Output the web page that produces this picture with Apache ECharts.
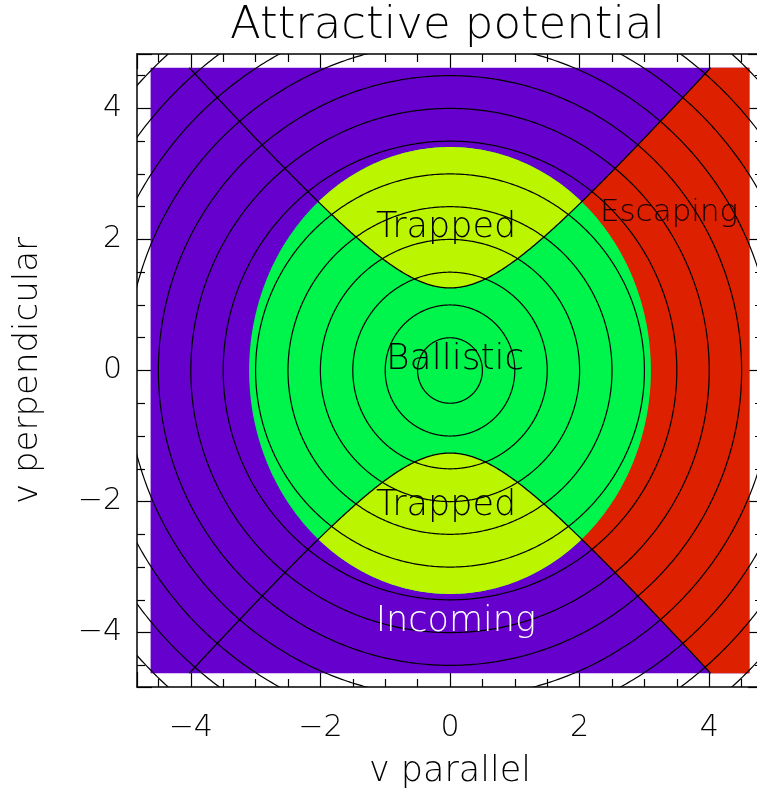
<!DOCTYPE html>
<html>
<head>
<meta charset="utf-8">
<script src="https://cdn.jsdelivr.net/npm/echarts@6/dist/echarts.min.js"></script>
<style>
  html, body { margin: 0; padding: 0; background: #ffffff; }
  #chart { width: 757px; height: 796px; }
</style>
</head>
<body>
<div id="chart"></div>
<script>
// Axis extent (both axes) and half-width of the coloured square
const axisLimit = 4.83;
const fillLimit = 4.62;
const tickLabels = [-4, -2, 0, 2, 4];

// Orbit-class boundaries in the (v parallel, v perpendicular) plane
const boundEllipse = [3.10, 3.41];    // semi-axes of the bound / unbound boundary
const trapHyperbola = [1.26, 1.105];  // vertex height and asymptotic slope of the trapping boundary

// Energy contours (circles of constant |v|)
const contourRadii = [0.5, 1.0, 1.5, 2.0, 2.5, 3.0, 3.5, 4.0, 4.5, 5.0, 5.5, 6.0, 6.5, 7.0];

// Orbit classes, in drawing order, and their colours
const regionNames = ['Incoming', 'Escaping', 'Ballistic', 'Trapped'];
const regionColors = ['#6600cc', '#dd2000', '#00f54c', '#bbf500'];

// Region labels
const labelText = ['Trapped', 'Ballistic', 'Trapped', 'Escaping', 'Incoming'];
const labelX = [-0.06, 0.08, -0.06, 3.38, 0.09];
const labelY = [2.17, 0.16, -2.07, 2.41, -3.84];
const labelSize = [35, 36, 35, 31, 35];
const labelColor = ['#000000', '#000000', '#000000', '#1a0000', '#ffffff'];

const FONT = "'DejaVu Sans', sans-serif";
const FW = 200;

// ---- boundary geometry -------------------------------------------------
const ea = boundEllipse[0], eb = boundEllipse[1];
const hv = trapHyperbola[0], hs = trapHyperbola[1];
const hypY = x => Math.sqrt(hv * hv + hs * hs * x * x);
// where the trapping hyperbola meets the bound ellipse
const xt = Math.sqrt((1 - hv * hv / (eb * eb)) / (1 / (ea * ea) + hs * hs / (eb * eb)));
const yt = hypY(xt);
const tt = Math.atan2(yt / eb, xt / ea);
// where the hyperbola leaves the coloured square
const xe = Math.sqrt((fillLimit * fillLimit - hv * hv) / (hs * hs));

function ellipseArc(t0, t1, n) {
  const pts = [];
  for (let i = 0; i <= n; i++) {
    const t = t0 + (t1 - t0) * i / n;
    pts.push([ea * Math.cos(t), eb * Math.sin(t)]);
  }
  return pts;
}
function branch(x0, x1, sign, n) {
  const pts = [];
  for (let i = 0; i <= n; i++) {
    const x = x0 + (x1 - x0) * i / n;
    pts.push([x, sign * hypY(x)]);
  }
  return pts;
}
function regionPolygons(name) {
  const F = fillLimit;
  if (name === 'Incoming') {
    return [[[-F, -F], [F, -F], [F, F], [-F, F]]];
  }
  if (name === 'Escaping') {
    const up = branch(0, xe, 1, 200);
    const down = branch(xe, 0, -1, 200);
    return [up.concat([[F, F], [F, -F]], down)];
  }
  if (name === 'Ballistic') {
    return [ellipseArc(0, 2 * Math.PI, 360)];
  }
  // Trapped: inside the ellipse, beyond the hyperbola
  const top = branch(-xt, xt, 1, 200).concat(ellipseArc(tt, Math.PI - tt, 200));
  const bottom = branch(-xt, xt, -1, 200).concat(ellipseArc(-tt, -Math.PI + tt, 200));
  return [top, bottom];
}

// ---- chart -------------------------------------------------------------
const chart = echarts.init(document.getElementById('chart'), null, { renderer: 'canvas' });

const lineStyle = { color: '#000000', width: 1.5 };
function tickFormatter(v) {
  const hit = tickLabels.find(t => Math.abs(t - v) < 1e-6);
  if (hit === undefined) return '';
  return String(hit).replace('-', '\u2212');
}
function makeAxis(position, showLabels, extra) {
  return Object.assign({
    type: 'value',
    position: position,
    min: -axisLimit,
    max: axisLimit,
    minInterval: 2,
    maxInterval: 2,
    splitNumber: 5,
    scale: true,
    axisLine: { show: true, onZero: false, lineStyle: lineStyle },
    axisTick: { show: true, inside: true, length: 15, lineStyle: { color: '#000', width: 1.2 } },
    minorTick: { show: true, splitNumber: 4, length: 8, lineStyle: { color: '#000', width: 1.2 } },
    splitLine: { show: false },
    minorSplitLine: { show: false },
    axisLabel: { show: showLabels }
  }, extra || {});
}

const option = {
  backgroundColor: '#ffffff',
  animation: false,
  title: {
    text: 'Attractive potential',
    left: 230,
    top: 4,
    padding: 0,
    textStyle: { color: '#000', fontFamily: FONT, fontWeight: FW, fontSize: 45 }
  },
  grid: {
    left: 137, top: 54, width: 626, height: 633,
    containLabel: false,
    outerBoundsMode: 'none'
  },
  xAxis: [
    makeAxis('bottom', true, {
      name: 'v parallel',
      nameLocation: 'middle',
      nameGap: 67,
      nameTextStyle: { color: '#000', fontFamily: FONT, fontWeight: FW, fontSize: 35 },
      axisLabel: {
        show: true, formatter: tickFormatter, color: '#000', fontFamily: FONT,
        fontWeight: FW, fontSize: 30, margin: 26, hideOverlap: false
      }
    }),
    makeAxis('top', false)
  ],
  yAxis: [
    makeAxis('left', true, {
      name: 'v perpendicular',
      nameLocation: 'middle',
      nameGap: 92,
      nameRotate: 90,
      nameTextStyle: { color: '#000', fontFamily: FONT, fontWeight: FW, fontSize: 34 },
      axisLabel: {
        show: true, formatter: tickFormatter, color: '#000', fontFamily: FONT,
        fontWeight: FW, fontSize: 30, margin: 15, padding: [6, 0, 0, 0], hideOverlap: false
      }
    }),
    makeAxis('right', false)
  ],
  series: [
    {
      // coloured orbit-class regions
      type: 'custom',
      name: 'regions',
      coordinateSystem: 'cartesian2d',
      xAxisIndex: 0, yAxisIndex: 0,
      silent: true,
      data: regionNames.map((n, i) => [0, 0, i]),
      renderItem: function (params, api) {
        const idx = params.dataIndex;
        const polys = regionPolygons(regionNames[idx]);
        return {
          type: 'group',
          children: polys.map(poly => ({
            type: 'polygon',
            shape: { points: poly.map(p => api.coord(p)) },
            style: { fill: regionColors[idx], stroke: null }
          }))
        };
      }
    },
    {
      // energy contours
      type: 'custom',
      name: 'contours',
      coordinateSystem: 'cartesian2d',
      xAxisIndex: 0, yAxisIndex: 0,
      silent: true,
      clip: true,
      data: contourRadii.map(r => [r, 0]),
      renderItem: function (params, api) {
        const r = contourRadii[params.dataIndex];
        const pts = [];
        for (let i = 0; i <= 720; i++) {
          const t = 2 * Math.PI * i / 720;
          pts.push(api.coord([r * Math.cos(t), r * Math.sin(t)]));
        }
        return {
          type: 'polyline',
          shape: { points: pts },
          style: { stroke: '#000000', lineWidth: 1.2, fill: null }
        };
      }
    },
    {
      // trapping separatrix
      type: 'custom',
      name: 'separatrix',
      coordinateSystem: 'cartesian2d',
      xAxisIndex: 0, yAxisIndex: 0,
      silent: true,
      clip: true,
      data: [[0, 1], [0, -1]],
      renderItem: function (params, api) {
        const sign = params.dataIndex === 0 ? 1 : -1;
        const pts = branch(-xe, xe, sign, 400).map(p => api.coord(p));
        return {
          type: 'polyline',
          shape: { points: pts },
          style: { stroke: '#000000', lineWidth: 1.3, fill: null }
        };
      }
    },
    {
      // region labels
      type: 'custom',
      name: 'labels',
      coordinateSystem: 'cartesian2d',
      xAxisIndex: 0, yAxisIndex: 0,
      silent: true,
      data: labelText.map((t, i) => [labelX[i], labelY[i]]),
      renderItem: function (params, api) {
        const i = params.dataIndex;
        const p = api.coord([api.value(0), api.value(1)]);
        return {
          type: 'text',
          x: p[0], y: p[1],
          style: {
            text: labelText[i],
            fill: labelColor[i],
            fontFamily: FONT,
            fontWeight: FW,
            fontSize: labelSize[i],
            align: 'center',
            verticalAlign: 'middle'
          }
        };
      }
    }
  ]
};

chart.setOption(option);
</script>
</body>
</html>
